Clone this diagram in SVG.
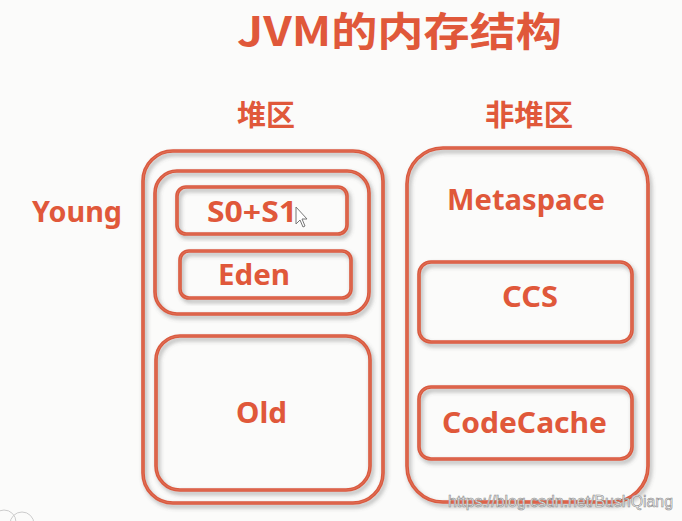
<svg xmlns="http://www.w3.org/2000/svg" width="682" height="521" viewBox="0 0 682 521">
<defs>
<filter id="sh" x="-10%" y="-10%" width="125%" height="125%">
<feDropShadow dx="2" dy="3" stdDeviation="2" flood-color="#555" flood-opacity="0.45"/>
</filter>
</defs>
<style>
.box{fill:none;stroke:#d95a3f;stroke-width:3.6;filter:url(#sh)}
.core{fill:none;stroke:#eb8f74;stroke-width:0.7;opacity:0.6}
.t{font-family:"Noto Sans","Open Sans","Noto Sans CJK SC",sans-serif;font-weight:bold;fill:#e0583a}
.c{font-family:"Noto Sans CJK SC","Noto Sans",sans-serif;font-weight:bold;fill:#e0583a}
.wm{font-family:"Liberation Sans",Arial,sans-serif;font-size:16px;fill:#f4f4f4;stroke:#8c8c8c;stroke-width:0.6}
</style>
<rect width="682" height="521" fill="#fbfbfa"/>
<g id="title"><text class="c" x="237" y="46" font-size="40" textLength="325" lengthAdjust="spacingAndGlyphs">JVM的内存结构</text></g>
<g id="heap-label"><text class="c" x="237" y="126" font-size="29" textLength="58" lengthAdjust="spacingAndGlyphs">堆区</text></g>
<g id="nonheap-label"><text class="c" x="485" y="126" font-size="29" textLength="88" lengthAdjust="spacingAndGlyphs">非堆区</text></g>
<g id="young-label"><text class="t" x="32" y="222" font-size="29" textLength="90" lengthAdjust="spacingAndGlyphs">Young</text></g>

<g id="heap">
<rect class="box" x="143" y="151" width="240" height="352" rx="30"/>
<rect class="core" x="143" y="151" width="240" height="352" rx="30"/>
</g>
<g id="young">
<rect class="box" x="155" y="171" width="214" height="143" rx="22"/>
<rect class="core" x="155" y="171" width="214" height="143" rx="22"/>
</g>
<g id="s0s1">
<rect class="box" x="177" y="187" width="170" height="47" rx="9"/>
<rect class="core" x="177" y="187" width="170" height="47" rx="9"/>
<text class="t" x="207" y="222" font-size="28" textLength="90" lengthAdjust="spacingAndGlyphs">S0+S1</text>
</g>
<g id="eden">
<rect class="box" x="180" y="251" width="171" height="47" rx="9"/>
<rect class="core" x="180" y="251" width="171" height="47" rx="9"/>
<text class="t" x="218" y="285" font-size="28" textLength="72" lengthAdjust="spacingAndGlyphs">Eden</text>
</g>
<g id="old">
<rect class="box" x="156" y="336" width="214" height="154" rx="24"/>
<rect class="core" x="156" y="336" width="214" height="154" rx="24"/>
<text class="t" x="236" y="423" font-size="29" textLength="51" lengthAdjust="spacingAndGlyphs">Old</text>
</g>

<g id="nonheap">
<rect class="box" x="407" y="148" width="241" height="354" rx="36"/>
<rect class="core" x="407" y="148" width="241" height="354" rx="36"/>
<text class="t" x="447" y="210" font-size="29" textLength="158" lengthAdjust="spacingAndGlyphs">Metaspace</text>
</g>
<g id="ccs">
<rect class="box" x="419" y="262" width="213" height="80" rx="12"/>
<rect class="core" x="419" y="262" width="213" height="80" rx="12"/>
<text class="t" x="502" y="307" font-size="29" textLength="56" lengthAdjust="spacingAndGlyphs">CCS</text>
</g>
<g id="codecache">
<rect class="box" x="419" y="387" width="213" height="72" rx="12"/>
<rect class="core" x="419" y="387" width="213" height="72" rx="12"/>
<text class="t" x="442" y="433" font-size="29" textLength="165" lengthAdjust="spacingAndGlyphs">CodeCache</text>
</g>

<g id="connectors"></g>

<g id="cursor">
<path d="M296 207 L296 224 L300 220 L303 227 L305 226 L302 219 L307 219 Z" fill="#ffffff" stroke="#777" stroke-width="1"/>
</g>
<circle cx="4" cy="522" r="12" fill="none" stroke="#ccc" stroke-width="1"/>
<circle cx="22" cy="524" r="12" fill="none" stroke="#ccc" stroke-width="1"/>
<text class="wm" x="448" y="507" textLength="225" lengthAdjust="spacingAndGlyphs">https://blog.csdn.net/BushQiang</text>
</svg>
